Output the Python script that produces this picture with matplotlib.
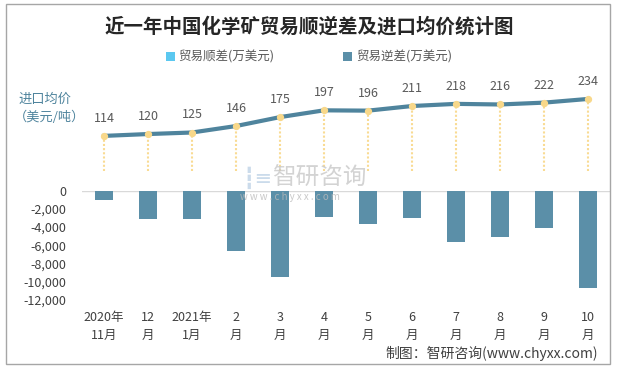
import matplotlib.pyplot as plt
from matplotlib.patches import Rectangle

plt.rcParams['font.family'] = ['Noto Sans CJK SC', 'DejaVu Sans']

# datos
meses = ['2020年\n11月', '12\n月', '2021年\n1月', '2\n月', '3\n月', '4\n月',
         '5\n月', '6\n月', '7\n月', '8\n月', '9\n月', '10\n月']
precio = [114, 120, 125, 146, 175, 197, 196, 211, 218, 216, 222, 234]
shunchai = [0, 0, 0, 0, 0, 0, 0, 0, 0, 0, 0, 0]
nichai = [-1000, -3100, -3100, -6630, -9500, -2870, -3650, -2980, -5640, -5080, -4090, -10720]
yticks = [0, -2000, -4000, -6000, -8000, -10000, -12000]

W, H = 618, 369
fig = plt.figure(figsize=(W / 100, H / 100), dpi=100)

def ax_px(x0, y0, x1, y1):
    return fig.add_axes([x0 / W, 1 - y1 / H, (x1 - x0) / W, (y1 - y0) / H])

# borde
fig.patches.append(Rectangle((6 / W, 1 - 364 / H), 604 / W, 360 / H, transform=fig.transFigure,
                             fill=False, edgecolor='#A6A6A6', lw=1))

x = list(range(len(meses)))

# precio (arriba)
ax1 = ax_px(82, 78, 610, 171)
ax1.set_xlim(-0.5, 11.5)
ax1.set_ylim(0, 302)
ax1.axis('off')
ax1.vlines(x, 0, precio, colors='#F9DB93', linestyles=(0, (1, 1)), lw=1.5, zorder=1)
ax1.plot(x, precio, color='#4F849D', lw=3, zorder=2)
ax1.scatter(x, precio, s=18, color='#F8D88A', zorder=3)
for xi, p in zip(x, precio):
    ax1.annotate(str(p), (xi, p), xytext=(0, 8), textcoords='offset points',
                 ha='center', va='bottom', fontsize=9, color='#595959')

# barras (abajo)
ax2 = ax_px(82, 190.7, 610, 300)
ax2.set_xlim(-0.5, 11.5)
ax2.set_ylim(-12000, 0)
ax2.bar(x, shunchai, width=0.4, color='#5BC8F0', label='贸易顺差(万美元)')
ax2.bar(x, nichai, width=0.4, color='#5B8FA8', label='贸易逆差(万美元)')
ax2.axhline(0, color='#D9D9D9', lw=1, zorder=0)
for s in ax2.spines.values():
    s.set_visible(False)
ax2.set_yticks(yticks)
ax2.set_yticklabels([f'{v:,}' for v in yticks])
ax2.set_xticks(x)
ax2.set_xticklabels(meses, linespacing=1.5)
ax2.tick_params(length=0, labelsize=9, labelcolor='#404040')
ax2.tick_params(axis='y', pad=11)
ax2.tick_params(axis='x', pad=8)

# textos
fig.text(0.5, 1 - 27 / H, '近一年中国化学矿贸易顺逆差及进口均价统计图', ha='center', va='center',
         fontsize=14, fontweight='bold', color='#262626')
fig.legend(loc='center', bbox_to_anchor=(0.5, 1 - 57 / H), ncol=2, frameon=False,
           fontsize=9, labelcolor='#595959', handlelength=0.7, handleheight=0.7,
           handletextpad=0.3, columnspacing=5.5)
fig.text(18 / W, 1 - 99 / H, '进口均价', ha='left', va='center', fontsize=9.5, color='#4F849D')
fig.text(14 / W, 1 - 117 / H, '（美元/吨）', ha='left', va='center', fontsize=9.5, color='#4F849D')
fig.text(598 / W, 1 - 353 / H, '制图：智研咨询(www.chyxx.com)', ha='right', va='center',
         fontsize=10, color='#404040')

# marca de agua
fig.text(242 / W, 1 - 178 / H, '┇≡', ha='left', va='center', fontsize=15,
         color='#BFD3E6', alpha=0.8, zorder=0, family='DejaVu Sans')
fig.text(272 / W, 1 - 178 / H, '智研咨询', ha='left', va='center', fontsize=17,
         color='#C8C8C8', alpha=0.8, zorder=0)
fig.text(240 / W, 1 - 197 / H, 'w w w . c h y x x . c o m', ha='left', va='center', fontsize=7,
         color='#BBBBBB', alpha=0.8, zorder=0)

fig.savefig('out.png', dpi=100)
